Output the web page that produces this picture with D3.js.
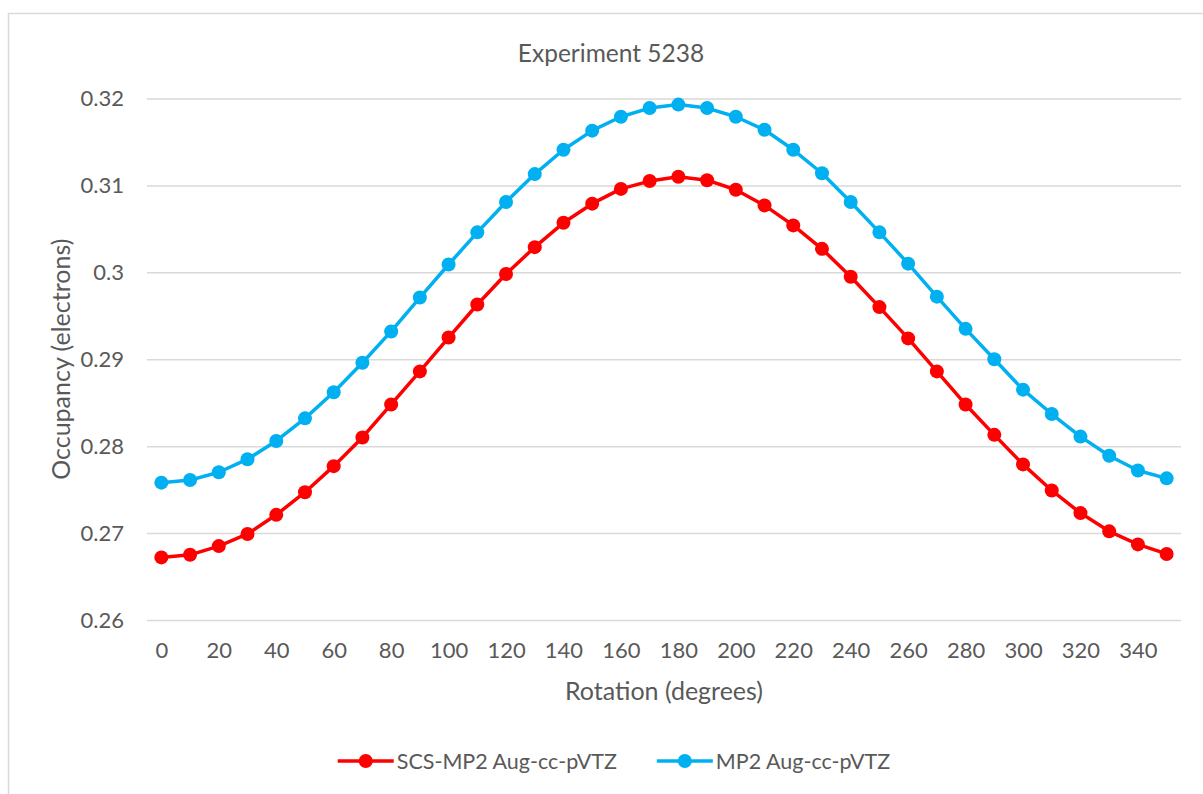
<!DOCTYPE html>
<html lang="en">
<meta charset="utf-8"/>
<style>
  body { margin: 0; background: #fff; }
  text { font-family: Lato, "Open Sans", sans-serif; fill: #595959; }
  .grid line { stroke: #d9d9d9; stroke-width: 1.5; }
  .grid .domain, .xaxis .domain { display: none; }
</style>
<body>
<svg id="chart" width="1203" height="794"></svg>
<script src="https://d3js.org/d3.v7.min.js"></script>
<script>
// rotation angles (categories)
let angles = [0, 10, 20, 30, 40, 50, 60, 70, 80, 90, 100, 110, 120, 130, 140, 150, 160, 170,
              180, 190, 200, 210, 220, 230, 240, 250, 260, 270, 280, 290, 300, 310, 320, 330, 340, 350]
let xTickLabels = [0, 20, 40, 60, 80, 100, 120, 140, 160, 180, 200, 220, 240, 260, 280, 300, 320, 340]
let yTicks = [0.26, 0.27, 0.28, 0.29, 0.3, 0.31, 0.32]
let yTickLabels = ["0.26", "0.27", "0.28", "0.29", "0.3", "0.31", "0.32"]

let scsValues = [0.2672, 0.2675, 0.2685, 0.2699, 0.2721, 0.2747, 0.2777, 0.2810, 0.2848, 0.2886,
                 0.2925, 0.2963, 0.2998, 0.3029, 0.3057, 0.3079, 0.3096, 0.3105, 0.3110, 0.3106,
                 0.3095, 0.3077, 0.3054, 0.3027, 0.2995, 0.2960, 0.2924, 0.2886, 0.2848, 0.2813,
                 0.2779, 0.2749, 0.2723, 0.2702, 0.2687, 0.2676]
let mp2Values = [0.2758, 0.2761, 0.2770, 0.2785, 0.2806, 0.2832, 0.2862, 0.2896, 0.2932, 0.2971,
                 0.3009, 0.3046, 0.3081, 0.3113, 0.3141, 0.3163, 0.3179, 0.3189, 0.3193, 0.3189,
                 0.3179, 0.3164, 0.3141, 0.3114, 0.3081, 0.3046, 0.3010, 0.2972, 0.2935, 0.2900,
                 0.2865, 0.2837, 0.2811, 0.2789, 0.2772, 0.2763]

let seriesNames = ["SCS-MP2 Aug-cc-pVTZ", "MP2 Aug-cc-pVTZ"]
let seriesColors = ["#ff0000", "#00b0f0"]
let series = [scsValues, mp2Values].map((vals, i) => ({
  name: seriesNames[i], color: seriesColors[i],
  points: vals.map((v, j) => ({ angle: angles[j], value: v }))
}))

let svg = d3.select("#chart")
let plotLeft = 147, plotRight = 1181, plotTop = 98.5, plotBottom = 620

// chart frame
svg.append("rect")
  .attr("x", 8.5).attr("y", 13.5)
  .attr("width", 1300).attr("height", 900)
  .attr("fill", "none").attr("stroke", "#d9d9d9").attr("stroke-width", 1.5)

let xScale = d3.scalePoint().domain(angles).range([plotLeft, plotRight]).padding(0.5)
let yScale = d3.scaleLinear().domain([0.26, 0.32]).range([plotBottom, plotTop])

svg.append("g")
  .attr("class", "grid")
  .attr("transform", "translate(" + plotLeft + ",0)")
  .call(d3.axisLeft(yScale)
    .tickValues(yTicks)
    .tickFormat((d, i) => yTickLabels[i])
    .tickSize(-(plotRight - plotLeft))
    .tickPadding(23))
  .selectAll("text")
  .style("font-size", "22px")
  .style("fill", "#595959")

svg.append("g")
  .attr("class", "xaxis")
  .attr("transform", "translate(0," + plotBottom + ")")
  .call(d3.axisBottom(xScale)
    .tickValues(xTickLabels)
    .tickSize(0)
    .tickPadding(22))
  .selectAll("text")
  .style("font-size", "22px")
  .style("fill", "#595959")

let line = d3.line()
  .x(d => xScale(d.angle))
  .y(d => yScale(d.value))

series.forEach(s => {
  let g = svg.append("g")
  g.append("path")
    .datum(s.points)
    .attr("d", line)
    .attr("fill", "none")
    .attr("stroke", s.color)
    .attr("stroke-width", 3.5)
    .attr("stroke-linejoin", "round")
  g.selectAll("circle")
    .data(s.points)
    .enter()
    .append("circle")
    .attr("cx", d => xScale(d.angle))
    .attr("cy", d => yScale(d.value))
    .attr("r", 7)
    .attr("fill", s.color)
})

// titles
svg.append("text")
  .attr("x", 611).attr("y", 52)
  .attr("text-anchor", "middle").attr("dominant-baseline", "central")
  .style("font-size", "24.5px")
  .text("Experiment 5238")

svg.append("text")
  .attr("x", (plotLeft + plotRight) / 2).attr("y", 690)
  .attr("text-anchor", "middle").attr("dominant-baseline", "central")
  .style("font-size", "25px")
  .text("Rotation (degrees)")

svg.append("text")
  .attr("transform", "translate(60," + (plotTop + plotBottom) / 2 + ") rotate(-90)")
  .attr("text-anchor", "middle").attr("dominant-baseline", "central")
  .style("font-size", "25px")
  .text("Occupancy (electrons)")

// legend
let legend = svg.append("g")
let items = legend.selectAll("g")
  .data(series)
  .enter()
  .append("g")
items.append("line")
  .attr("x1", 0).attr("x2", 56)
  .attr("stroke", d => d.color).attr("stroke-width", 3.5)
items.append("circle")
  .attr("cx", 28).attr("r", 7)
  .attr("fill", d => d.color)
items.append("text")
  .attr("x", 59)
  .attr("dominant-baseline", "central")
  .style("font-size", "21.5px")
  .text(d => d.name)

let offsets = []
let cursor = 0
items.each(function() {
  offsets.push(cursor)
  cursor += 59 + d3.select(this).select("text").node().getComputedTextLength() + 40
})
let total = cursor - 40
items.attr("transform", (d, i) => "translate(" + offsets[i] + ",0)")
legend.attr("transform", "translate(" + (614 - total / 2) + ",761)")
</script>
</body>
</html>
